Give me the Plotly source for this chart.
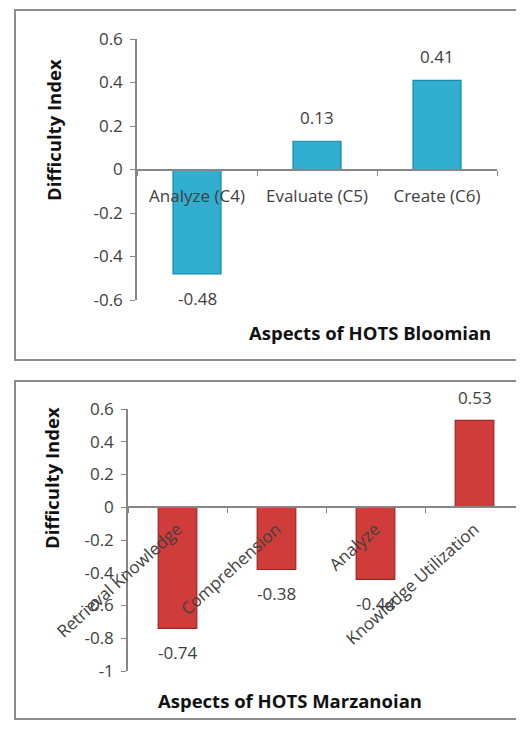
import plotly.graph_objects as go

# window 524x729; page body adds an 8px margin, so the figure is sized to fit
OFF = 8
W, H = 524 - OFF, 729 - OFF

# ---- data ----
bloom_categories = ["Analyze (C4)", "Evaluate (C5)", "Create (C6)"]
bloom_values = [-0.48, 0.13, 0.41]
bloom_yticks = [-0.6, -0.4, -0.2, 0.0, 0.2, 0.4, 0.6]
bloom_yticktext = ["-0.6", "-0.4", "-0.2", "0", "0.2", "0.4", "0.6"]

marz_categories = ["Retrieval Knowledge", "Comprehension", "Analyze", "Knowledge Utilization"]
marz_values = [-0.74, -0.38, -0.44, 0.53]
marz_yticks = [-1.0, -0.8, -0.6, -0.4, -0.2, 0.0, 0.2, 0.4, 0.6]
marz_yticktext = ["-1", "-0.8", "-0.6", "-0.4", "-0.2", "0", "0.2", "0.4", "0.6"]

FONT = "Open Sans"
FS = 17
TXT = "#404040"
AX = "#868686"


def px_x(x):
    return (x - OFF) / W


def px_y(y):
    return (H - (y - OFF)) / H


fig = go.Figure()

fig.add_trace(go.Bar(
    x=bloom_categories, y=bloom_values, xaxis="x", yaxis="y", width=0.4,
    marker=dict(color="#31aed0", line=dict(color="#1a8aaa", width=1.2)),
    showlegend=False, hoverinfo="x+y",
))
fig.add_trace(go.Bar(
    x=marz_categories, y=marz_values, xaxis="x2", yaxis="y2", width=0.39,
    marker=dict(color="#cf3c3a", line=dict(color="#9e2424", width=1.2)),
    showlegend=False, hoverinfo="x+y",
))

annotations = []
for c, v in zip(bloom_categories, bloom_values):
    annotations.append(dict(x=c, y=v, xref="x", yref="y", text=f"{v:.2f}",
                            showarrow=False, yshift=24 if v > 0 else -25,
                            font=dict(family=FONT, size=FS, color=TXT)))
for c, v in zip(marz_categories, marz_values):
    annotations.append(dict(x=c, y=v, xref="x2", yref="y2", text=f"{v:.2f}",
                            showarrow=False, yshift=23 if v > 0 else -24,
                            font=dict(family=FONT, size=FS, color=TXT)))

# axis titles
title_font = dict(family=FONT, size=18.5, color="#111")
annotations += [
    dict(text="<b>Difficulty Index</b>", xref="paper", yref="paper", x=px_x(53), y=px_y(130),
         xanchor="center", yanchor="middle", textangle=-90, showarrow=False, font=title_font),
    dict(text="<b>Aspects of HOTS Bloomian</b>", xref="paper", yref="paper", x=px_x(493), y=px_y(332),
         xanchor="right", yanchor="middle", showarrow=False, font=title_font),
    dict(text="<b>Difficulty Index</b>", xref="paper", yref="paper", x=px_x(52), y=px_y(478),
         xanchor="center", yanchor="middle", textangle=-90, showarrow=False, font=title_font),
    dict(text="<b>Aspects of HOTS Marzanoian</b>", xref="paper", yref="paper", x=px_x(290), y=px_y(700),
         xanchor="center", yanchor="middle", showarrow=False, font=title_font),
]

shapes = [
    dict(type="rect", xref="paper", yref="paper", x0=px_x(15), x1=px_x(523), y0=px_y(360), y1=px_y(10),
         line=dict(color="#8c8c8c", width=2), fillcolor="rgba(0,0,0,0)", layer="below"),
    dict(type="rect", xref="paper", yref="paper", x0=px_x(15), x1=px_x(523), y0=px_y(719), y1=px_y(381),
         line=dict(color="#8c8c8c", width=2), fillcolor="rgba(0,0,0,0)", layer="below"),
]

tickfont = dict(family=FONT, size=FS, color=TXT)

fig.update_layout(
    width=W, height=H, margin=dict(l=0, r=0, t=0, b=0, autoexpand=False),
    paper_bgcolor="white", plot_bgcolor="rgba(0,0,0,0)",
    font=dict(family=FONT),
    annotations=annotations, shapes=shapes,
    xaxis=dict(domain=[px_x(137), px_x(497)], anchor="free", position=px_y(170),
               type="category", range=[-0.5, 2.5], showline=True, linecolor=AX, linewidth=1.5,
               ticks="outside", tickson="boundaries", ticklen=5, tickcolor=AX,
               tickfont=tickfont, showgrid=False, zeroline=False, ticklabelstandoff=11,
               tickangle=0, automargin=False, layer="above traces"),
    yaxis=dict(domain=[px_y(300), px_y(39)], anchor="x", range=[-0.6, 0.6],
               tickvals=bloom_yticks, ticktext=bloom_yticktext,
               showline=True, linecolor=AX, linewidth=1.5, ticks="outside", ticklen=5, tickcolor=AX,
               tickfont=tickfont, showgrid=False, zeroline=False, ticklabelstandoff=4,
               automargin=False),
    xaxis2=dict(domain=[px_x(128), 1.0], anchor="free", position=px_y(507),
                type="category", range=[-0.5, 3.5], showline=True, linecolor=AX, linewidth=1.5,
                ticks="outside", tickson="boundaries", ticklen=5, tickcolor=AX,
                tickangle=-42, tickfont=tickfont, showgrid=False, zeroline=False,
                ticklabelstandoff=5, automargin=False, layer="above traces"),
    yaxis2=dict(domain=[px_y(671), px_y(409)], anchor="x2", range=[-1.0, 0.6],
                tickvals=marz_yticks, ticktext=marz_yticktext,
                showline=True, linecolor=AX, linewidth=1.5, ticks="outside", ticklen=5, tickcolor=AX,
                tickfont=tickfont, showgrid=False, zeroline=False, ticklabelstandoff=4,
                automargin=False),
)

fig.write_html("out.html")
